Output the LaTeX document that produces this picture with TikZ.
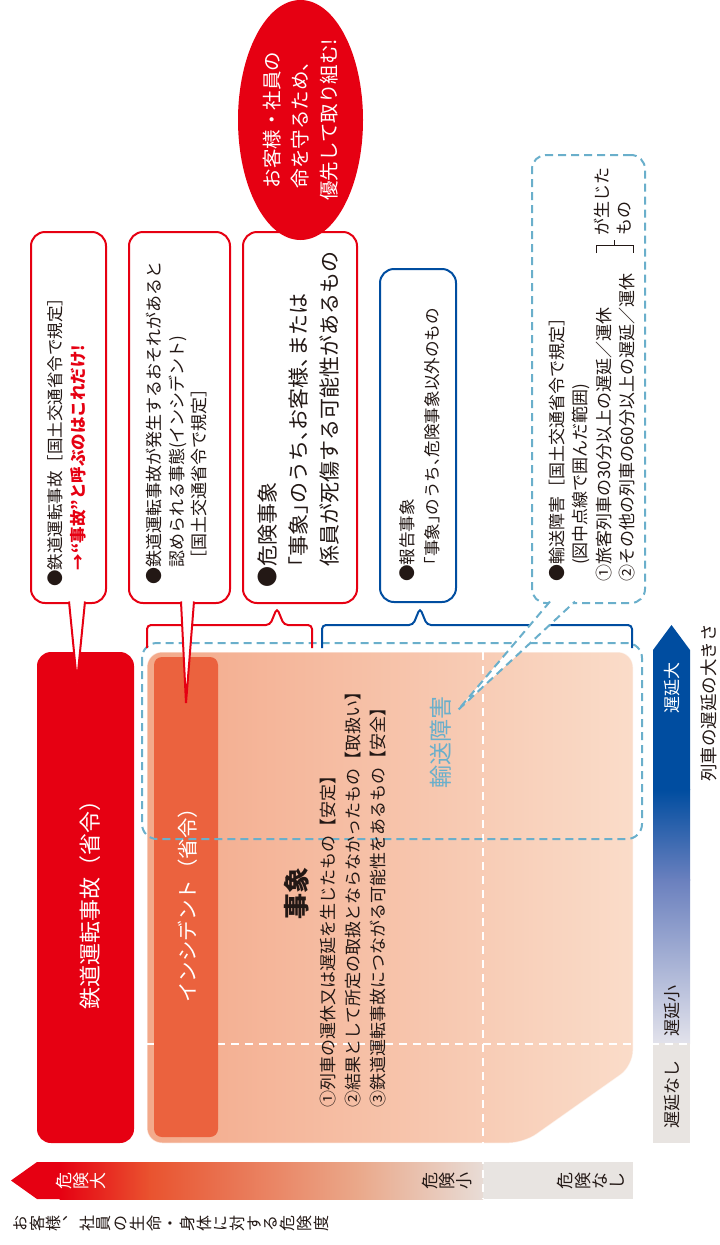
\documentclass[tikz,border=0pt]{standalone}
\usepackage{fontspec}
\setmainfont{Noto Sans CJK JP}
\newfontfamily\halfwidth{Noto Sans CJK JP}[RawFeature=+halt]
\usetikzlibrary{shapes.geometric}
\usetikzlibrary{calc}

\definecolor{ink}{HTML}{231815}
\definecolor{jrred}{HTML}{E60012}
\definecolor{incred}{HTML}{EB623E}
\definecolor{eventdark}{HTML}{F3A98A}
\definecolor{eventlight}{HTML}{FADCC9}
\definecolor{jrblue}{HTML}{004DA0}
\definecolor{dashblue}{HTML}{6AAFCB}
\definecolor{delaymid}{HTML}{6A80BE}
\definecolor{delaylight}{HTML}{E2E2EB}
\definecolor{nonegray}{HTML}{E8E4E1}
\definecolor{riskmid}{HTML}{E9532F}
\definecolor{risklight}{HTML}{EAA98B}
\definecolor{riskpale}{HTML}{E8DCD6}

\begin{document}
\begin{tikzpicture}[x=1pt, y=-1pt,
                    call box/.style={draw=jrred, line width=2pt, fill=white, rounded corners=14pt, inner sep=0pt, outer sep=0pt, anchor=north west},
                    call tip/.style={draw=jrred, line width=2pt, fill=white},
                    dash line/.style={draw=dashblue, line width=2pt, dash pattern=on 8pt off 5pt},
                    white dash/.style={draw=white, line width=1.6pt, dash pattern=on 8pt off 6pt},
                    bar node/.style={rounded corners=14pt, inner sep=0pt, outer sep=0pt, anchor=north west},
                    side text/.style={rotate=90, inner sep=0pt, anchor=north west, align=left, text=ink},
                    mid text/.style={rotate=90, inner sep=0pt, text=ink, font=\fontsize{17}{17}\selectfont},
                    tate text/.style={rotate=90, inner sep=0pt, align=center, text=ink, font=\fontsize{17}{17.3}\selectfont}]

  \useasboundingbox (0,0) rectangle (720,1245);

  \shadedraw[left color=eventdark, right color=eventlight, draw=white, draw opacity=0.6, line width=1pt, rounded corners=15pt]
    (147,652) -- (633,652) -- (633,1066) -- (524,1143) -- (147,1143) -- cycle;

  \fill[jrblue] (653,650) -- (671.5,625) -- (690,650) -- (690,790) -- (653,790) -- cycle;
  \shade[top color=jrblue, bottom color=delaymid] (653,789.5) rectangle (690,880);
  \shade[top color=delaymid, bottom color=delaylight] (653,879.5) rectangle (690,1043);
  \fill[nonegray] (653,1043) rectangle (690,1143);

  \fill[jrred] (11,1180.5) -- (37,1162) -- (60,1162) -- (60,1199) -- (37,1199) -- cycle;
  \shade[left color=jrred, right color=riskmid] (59.5,1162) rectangle (150,1199);
  \shade[left color=riskmid, right color=risklight] (149.5,1162) rectangle (360,1199);
  \shade[left color=risklight, right color=riskpale] (359.5,1162) rectangle (483,1199);
  \fill[nonegray] (483,1162) rectangle (633,1199);

  \draw[white dash] (483,652) -- (483,1199);
  \draw[white dash] (147,1044) -- (698,1044);

  \node[bar node, fill=incred, rounded corners=8pt, minimum width=64pt, minimum height=480pt] (incbar) at (154,657) {};
  \node[bar node, fill=jrred, minimum width=97pt, minimum height=491pt] (accbar) at (37,652) {};

  \draw[dash line, rounded corners=15pt] (142,643) rectangle (642,839);

  \draw[jrred, line width=2pt, rounded corners=4pt] (147,648) -- (147,625) -- (270,625) -- (277,608) -- (284,625) -- (312,625) -- (312,648);
  \draw[jrblue, line width=2pt, rounded corners=4pt] (322,648) -- (322,625) -- (413,625) -- (420,608) -- (427,625) -- (632,625) -- (632,648);

  \node[call box, minimum width=75pt, minimum height=371pt] (accbox) at (31,232) {};
  \node[call box, minimum width=101pt, minimum height=371pt] (incbox) at (129,232) {};
  \node[call box, minimum width=114pt, minimum height=371pt] (dangerbox) at (243,232) {};
  \node[call box, draw=jrblue, minimum width=76pt, minimum height=333pt] (reportbox) at (380,269) {};
  \node[call box, dash line, fill=none, minimum width=113pt, minimum height=448pt] (delaybox) at (532,155) {};

  \coordinate (acctip) at (77,682);
  \coordinate (inctip) at (186,703);
  \coordinate (delaytip) at (458,710);

  \filldraw[call tip] ($(accbox.south west)+(38,-1.5)$) -- (acctip) -- ($(accbox.south west)+(54,-1.5)$);
  \filldraw[call tip] ($(incbox.south west)+(52,-1.5)$) -- (inctip) -- ($(incbox.south west)+(65,-1.5)$);
  \filldraw[dash line, fill=white] ($(delaybox.south west)+(18,-1.5)$) -- (delaytip) -- ($(delaybox.south west)+(43,-1.5)$);

  \node[ellipse, fill=jrred, text=white, rotate=90, minimum width=240pt, minimum height=125pt, inner sep=0pt,
        align=center, font=\fontsize{19.5}{28.5}\selectfont] (goal) at (300.5,120) {お客様・社員の\\命を守るため、\\優先して取り組む!};

  \node[side text, font=\fontsize{16.5}{23.5}\selectfont] (acctext) at (47,587)
    {●鉄道運転事故［国土交通省令で規定］\\\textcolor{jrred}{\bfseries　→“事故”と呼ぶのはこれだけ!}};
  \node[side text, font=\fontsize{17}{22.5}\selectfont] (inctext) at (146,585)
    {●鉄道運転事故が発生するおそれがあると\\　認められる事態(インシデント)\\　［国土交通省令で規定］};
  \node[side text, font=\fontsize{21}{31}\selectfont] (dangertext) at (258,588)
    {●危険事象\\　{\halfwidth 「事象」のうち、お客様、または}\\　係員が死傷する可能性があるもの};
  \node[side text, font=\fontsize{16.6}{25}\selectfont] (reporttext) at (399,582)
    {●報告事象\\　{\halfwidth 「事象」のうち、危険事象以外のもの}};
  \node[side text, font=\fontsize{17}{23.3}\selectfont] (delaytext) at (549,582)
    {●輸送障害［国土交通省令で規定］\\　(図中点線で囲んだ範囲)\\①旅客列車の30分以上の遅延／運休\\②その他の列車の60分以上の遅延／運休};
  \node[side text, font=\fontsize{17}{21.5}\selectfont] (resulttext) at (594,236) {が生じた\\もの};
  \draw[ink, line width=0.8pt] (596,253) -- (596,245.5) -- (633,245.5) -- (633,253) (614.5,245.5) -- (614.5,239.5);

  \node[mid text, text=white, font=\fontsize{22}{22}\selectfont] (acclabel) at (90,899) {鉄道運転事故（省令）};
  \node[mid text, text=white, font=\fontsize{20.5}{20.5}\selectfont] (inclabel) at (188,900) {インシデント（省令）};
  \node[mid text, font=\fontsize{26}{26}\bfseries\selectfont] (eventlabel) at (297,893) {事象};
  \node[side text, font=\fontsize{17}{25}\selectfont] (eventlist) at (320,1108)
    {①列車の運休又は遅延を生じたもの【安定】\\②結果として所定の取扱とならなかったもの【取扱い】\\③鉄道運転事故につながる可能性をあるもの【安全】};
  \node[mid text, text=dashblue, font=\fontsize{23}{23}\selectfont] (delaylabel) at (441,742) {輸送障害};

  \node[mid text, text=white] (bigdelay) at (672,688) {遅延大};
  \node[mid text] (smalldelay) at (672,1011) {遅延小};
  \node[mid text] (nodelay) at (672,1094) {遅延なし};
  \node[mid text, font=\fontsize{17.5}{17.5}\selectfont] (delayaxis) at (709,703) {列車の遅延の大きさ};

  \node[tate text, text=white] (bigrisk) at (81,1181) {危\\険\\大};
  \node[tate text] (smallrisk) at (447,1181) {危\\険\\小};
  \node[tate text] (norisk) at (591,1181) {危\\険\\な\\し};
  \node[tate text, font=\fontsize{16}{16.7}\selectfont] (riskaxis) at (171,1223)
    {お\\客\\様\\︑\\社\\員\\の\\生\\命\\・\\身\\体\\に\\対\\す\\る\\危\\険\\度};

\end{tikzpicture}
\end{document}
